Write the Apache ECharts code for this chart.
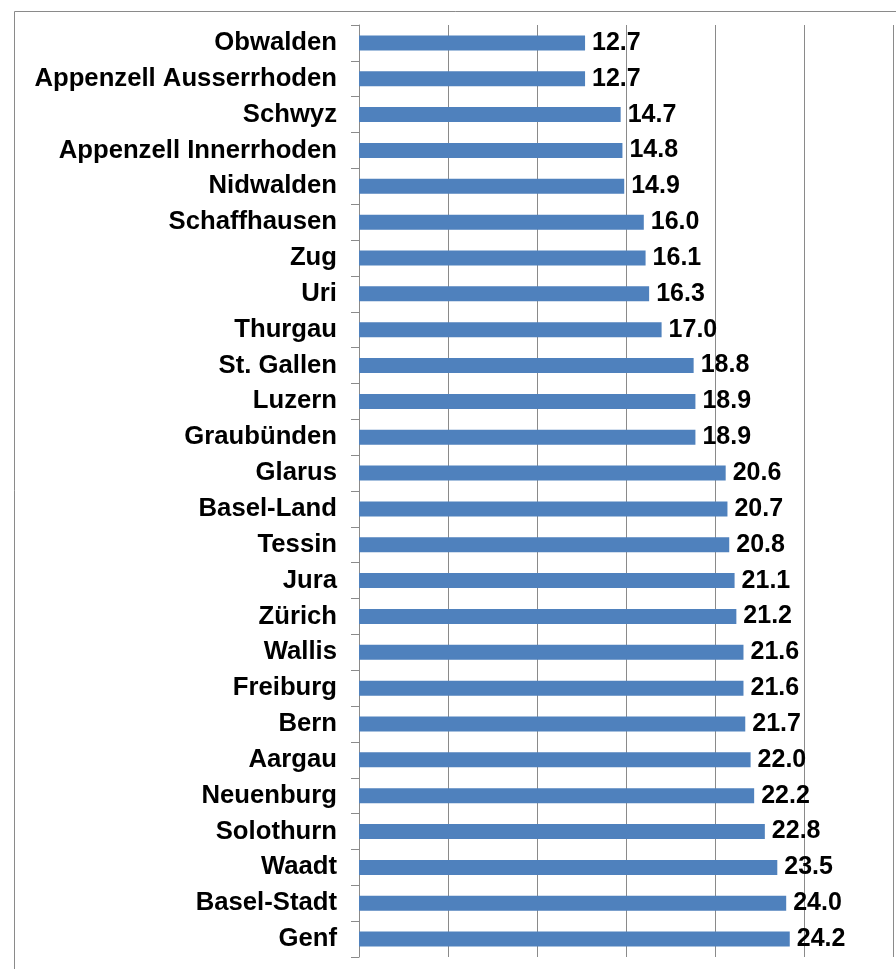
<!DOCTYPE html>
<html>
<head>
<meta charset="utf-8">
<script src="https://cdn.jsdelivr.net/npm/echarts@6/dist/echarts.min.js"></script>
<style>html,body{margin:0;padding:0;background:#fff;}#c{width:896px;height:969px;}</style>
</head>
<body>
<div id="c"></div>
<script>
const categories = ["Obwalden","Appenzell Ausserrhoden","Schwyz","Appenzell Innerrhoden","Nidwalden","Schaffhausen","Zug","Uri","Thurgau","St. Gallen","Luzern","Graubünden","Glarus","Basel-Land","Tessin","Jura","Zürich","Wallis","Freiburg","Bern","Aargau","Neuenburg","Solothurn","Waadt","Basel-Stadt","Genf"];
const values = [12.7,12.7,14.7,14.8,14.9,16.0,16.1,16.3,17.0,18.8,18.9,18.9,20.6,20.7,20.8,21.1,21.2,21.6,21.6,21.7,22.0,22.2,22.8,23.5,24.0,24.2];

const chart = echarts.init(document.getElementById('c'), null, {renderer:'canvas'});
chart.setOption({
  animation: false,
  backgroundColor: '#fff',
  graphic: [{
    type: 'rect', left: 12, top: 9, silent: true,
    shape: {width: 920, height: 1000},
    style: {fill: 'none', stroke: '#8a8a8a', lineWidth: 1}
  }],
  grid: {left: 359, top: 25, right: 3, bottom: 12, containLabel: false},
  xAxis: {
    type: 'value', min: 0, max: 30, interval: 5,
    axisLabel: {show: false}, axisLine: {show: false}, axisTick: {show: false},
    splitLine: {show: true, lineStyle: {color: '#8a8a8a', width: 1}}
  },
  yAxis: {
    type: 'category', inverse: true, data: categories,
    axisLine: {show: true, lineStyle: {color: '#8a8a8a', width: 1}},
    axisTick: {show: true, length: 8, alignWithLabel: false, lineStyle: {color: '#8a8a8a'}},
    axisLabel: {margin: 22, color: '#000', fontFamily: 'Liberation Sans, Arial, sans-serif', fontWeight: 'bold', fontSize: 25.7}
  },
  series: [{
    type: 'bar', data: values, barWidth: 15,
    itemStyle: {color: '#4F81BD'},
    label: {show: true, position: 'right', distance: 7, color: '#000',
      fontFamily: 'Liberation Sans, Arial, sans-serif', fontWeight: 'bold', fontSize: 25,
      formatter: p => p.value.toFixed(1)}
  }]
});
</script>
</body>
</html>
